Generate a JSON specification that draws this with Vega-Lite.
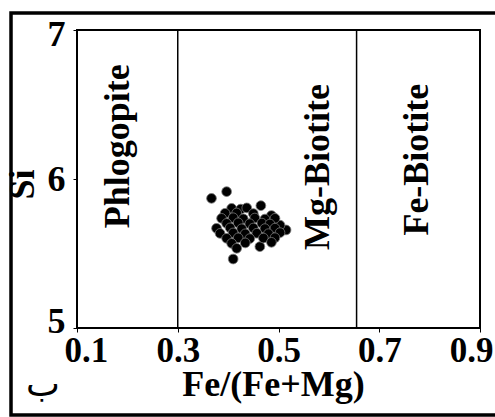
{
  "$schema": "https://vega.github.io/schema/vega-lite/v6.json",
  "width": 403,
  "height": 298,
  "autosize": "none",
  "padding": {"left": 77, "top": 30, "right": 15, "bottom": 89},
  "background": "white",
  "config": {
    "view": {"stroke": "black", "strokeWidth": 2},
    "font": "Liberation Serif"
  },
  "datasets": {
    "points": [
      {"ratio": 0.367, "si": 5.870}, {"ratio": 0.397, "si": 5.915}, {"ratio": 0.465, "si": 5.821},
      {"ratio": 0.410, "si": 5.463}, {"ratio": 0.515, "si": 5.658}, {"ratio": 0.503, "si": 5.690},
      {"ratio": 0.486, "si": 5.755}, {"ratio": 0.463, "si": 5.546},
      {"ratio": 0.407, "si": 5.803}, {"ratio": 0.425, "si": 5.798}, {"ratio": 0.437, "si": 5.806},
      {"ratio": 0.394, "si": 5.770}, {"ratio": 0.417, "si": 5.772}, {"ratio": 0.450, "si": 5.768},
      {"ratio": 0.387, "si": 5.736}, {"ratio": 0.410, "si": 5.740}, {"ratio": 0.430, "si": 5.733},
      {"ratio": 0.453, "si": 5.738}, {"ratio": 0.473, "si": 5.731}, {"ratio": 0.493, "si": 5.736},
      {"ratio": 0.397, "si": 5.702}, {"ratio": 0.420, "si": 5.706}, {"ratio": 0.443, "si": 5.700},
      {"ratio": 0.467, "si": 5.704}, {"ratio": 0.483, "si": 5.698},
      {"ratio": 0.377, "si": 5.669}, {"ratio": 0.404, "si": 5.672}, {"ratio": 0.427, "si": 5.666},
      {"ratio": 0.450, "si": 5.671}, {"ratio": 0.473, "si": 5.667}, {"ratio": 0.493, "si": 5.670},
      {"ratio": 0.384, "si": 5.635}, {"ratio": 0.410, "si": 5.638}, {"ratio": 0.434, "si": 5.632},
      {"ratio": 0.457, "si": 5.636}, {"ratio": 0.480, "si": 5.633}, {"ratio": 0.503, "si": 5.640},
      {"ratio": 0.397, "si": 5.602}, {"ratio": 0.420, "si": 5.605}, {"ratio": 0.443, "si": 5.600},
      {"ratio": 0.470, "si": 5.604}, {"ratio": 0.493, "si": 5.606},
      {"ratio": 0.407, "si": 5.568}, {"ratio": 0.434, "si": 5.571}, {"ratio": 0.486, "si": 5.575},
      {"ratio": 0.417, "si": 5.535}
    ],
    "fields": [
      {"ratio": 0.181, "si": 6.22, "name": "Phlogopite"},
      {"ratio": 0.578, "si": 6.08, "name": "Mg-Biotite"},
      {"ratio": 0.775, "si": 6.13, "name": "Fe-Biotite"}
    ],
    "bounds": [{"b": 0.3}, {"b": 0.655}],
    "frame": [{"x1": -0.031, "x2": 1.05, "y1": 4.416, "y2": 7.114}],
    "marker": [{"ratio": 0.0325, "si": 4.62, "t": "ب"}]
  },
  "encoding": {
    "x": {
      "field": "ratio", "type": "quantitative",
      "scale": {"domain": [0.1, 0.9], "nice": false, "zero": false},
      "axis": {
        "values": [0.1, 0.3, 0.5, 0.7, 0.9], "format": ".1f", "grid": false, "domain": false,
        "tickColor": "black", "tickSize": 4, "labelPadding": 1,
        "labelFont": "Liberation Serif", "labelFontWeight": "bold", "labelFontSize": 35, "labelColor": "black",
        "labelFlush": true, "labelFlushOffset": 13, "labelOverlap": false,
        "title": "Fe/(Fe+Mg)", "titleFont": "Liberation Serif", "titleFontWeight": "bold", "titleFontSize": 36,
        "titleColor": "black", "titleX": 196, "titleY": 56, "titleBaseline": "middle", "titleAlign": "center"
      }
    },
    "y": {
      "field": "si", "type": "quantitative",
      "scale": {"domain": [5, 7], "nice": false, "zero": false},
      "axis": {
        "values": [5, 6, 7], "labelExpr": "format(datum.value, '.0f')", "grid": false, "domain": false,
        "tickColor": "black", "tickSize": 4, "labelPadding": 8,
        "labelOffset": {"condition": [{"test": "datum.value == 7", "value": 4}, {"test": "datum.value == 5", "value": -7}], "value": 0},
        "labelFont": "Liberation Serif", "labelFontWeight": "bold", "labelFontSize": 36, "labelColor": "black",
        "labelFlush": false, "labelOverlap": false,
        "title": "Si", "titleFont": "Liberation Serif", "titleFontWeight": "bold", "titleFontSize": 36,
        "titleColor": "black", "titleX": -55, "titleY": 154, "titleBaseline": "middle", "titleAlign": "center", "titleAngle": 270
      }
    }
  },
  "layer": [
    {
      "data": {"name": "frame"},
      "mark": {"type": "rect", "fill": null, "stroke": "black", "strokeWidth": 3.5, "clip": false},
      "encoding": {
        "x": {"field": "x1", "type": "quantitative"},
        "x2": {"field": "x2"},
        "y": {"field": "y1", "type": "quantitative"},
        "y2": {"field": "y2"}
      }
    },
    {
      "data": {"name": "bounds"},
      "mark": {"type": "rule", "color": "black", "strokeWidth": 1.5},
      "encoding": {
        "x": {"field": "b", "type": "quantitative"},
        "y": null
      }
    },
    {
      "data": {"name": "fields"},
      "mark": {"type": "text", "angle": 270, "align": "center", "baseline": "middle", "font": "Liberation Serif", "fontWeight": "bold", "fontSize": 36, "color": "black"},
      "encoding": {"text": {"field": "name"}}
    },
    {
      "data": {"name": "points"},
      "mark": {"type": "circle", "size": 95, "color": "black", "opacity": 1, "stroke": "#777777", "strokeWidth": 0.8}
    },
    {
      "data": {"name": "marker"},
      "mark": {"type": "text", "font": "DejaVu Sans", "fontSize": 36, "align": "center", "baseline": "middle", "color": "black", "clip": false},
      "encoding": {"text": {"field": "t"}}
    }
  ]
}
